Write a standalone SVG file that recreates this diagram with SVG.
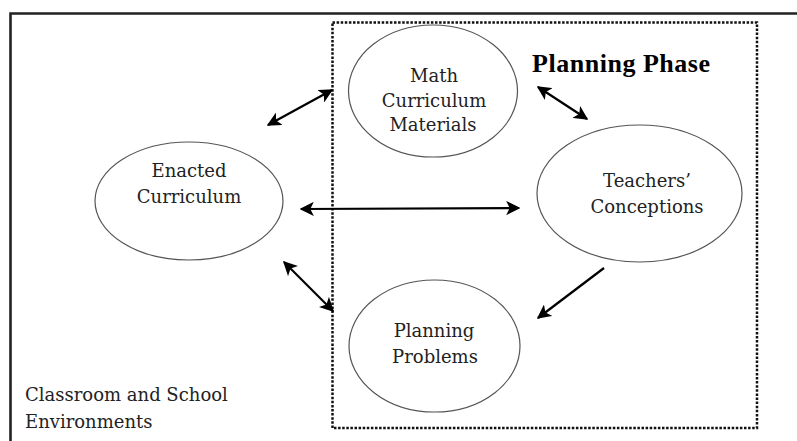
<svg xmlns="http://www.w3.org/2000/svg" width="797" height="441" viewBox="0 0 797 441">
<style>
.node ellipse{fill:#fff;stroke:#555;stroke-width:1.2}
.t{font-family:"DejaVu Serif",serif;font-size:18px;fill:#222;text-anchor:middle}
.conn line{stroke:#000;stroke-width:2.2}
</style>
<defs>
<marker id="ah" viewBox="0 0 10 10" refX="9" refY="5" markerWidth="6.5" markerHeight="6.5" markerUnits="strokeWidth" orient="auto-start-reverse">
<path d="M0,0 L10,5 L0,10 L2.5,5 Z" fill="#000"/>
</marker>
</defs>
<rect width="797" height="441" fill="#fff"/>
<g id="frame">
<path d="M10.5,441 V13.5 H797" fill="none" stroke="#222" stroke-width="2.6"/>
</g>
<g id="planning-phase-box">
<rect x="332.5" y="22.5" width="424.5" height="405.5" fill="none" stroke="#111" stroke-width="2.5" stroke-dasharray="2.5 1.6"/>
<text x="621" y="72" font-family="'Liberation Serif',serif" font-size="26" font-weight="bold" text-anchor="middle" textLength="178" lengthAdjust="spacing" fill="#000">Planning Phase</text>
</g>
<g id="math">
<g class="node"><ellipse cx="433" cy="91" rx="84.5" ry="66"/></g>
<text class="t" x="434" y="82">Math</text>
<text class="t" x="434" y="107">Curriculum</text>
<text class="t" x="433" y="131">Materials</text>
</g>
<g id="enacted" class="node">
<ellipse cx="189" cy="201" rx="94" ry="59"/>
<text class="t" x="189" y="177">Enacted</text>
<text class="t" x="189" y="203">Curriculum</text>
</g>
<g id="teachers" class="node">
<ellipse cx="639.5" cy="193.5" rx="102.5" ry="68.5"/>
<text class="t" x="647" y="187">Teachers’</text>
<text class="t" x="647" y="213">Conceptions</text>
</g>
<g id="problems" class="node">
<ellipse cx="434.5" cy="346" rx="85.5" ry="66"/>
<text class="t" x="434" y="337">Planning</text>
<text class="t" x="435" y="363">Problems</text>
</g>
<g id="env">
<text class="t" x="25" y="401" style="text-anchor:start">Classroom and School</text>
<text class="t" x="25" y="428" style="text-anchor:start">Environments</text>
</g>
<g id="connectors" class="conn">
<line x1="268" y1="125" x2="332" y2="90" marker-start="url(#ah)" marker-end="url(#ah)"/>
<line x1="301" y1="209" x2="519" y2="208" marker-start="url(#ah)" marker-end="url(#ah)"/>
<line x1="538" y1="87" x2="587" y2="119" marker-start="url(#ah)" marker-end="url(#ah)"/>
<line x1="284" y1="262" x2="333" y2="311" marker-start="url(#ah)" marker-end="url(#ah)"/>
<line x1="604" y1="268" x2="538" y2="318" marker-end="url(#ah)"/>
</g>
</svg>
